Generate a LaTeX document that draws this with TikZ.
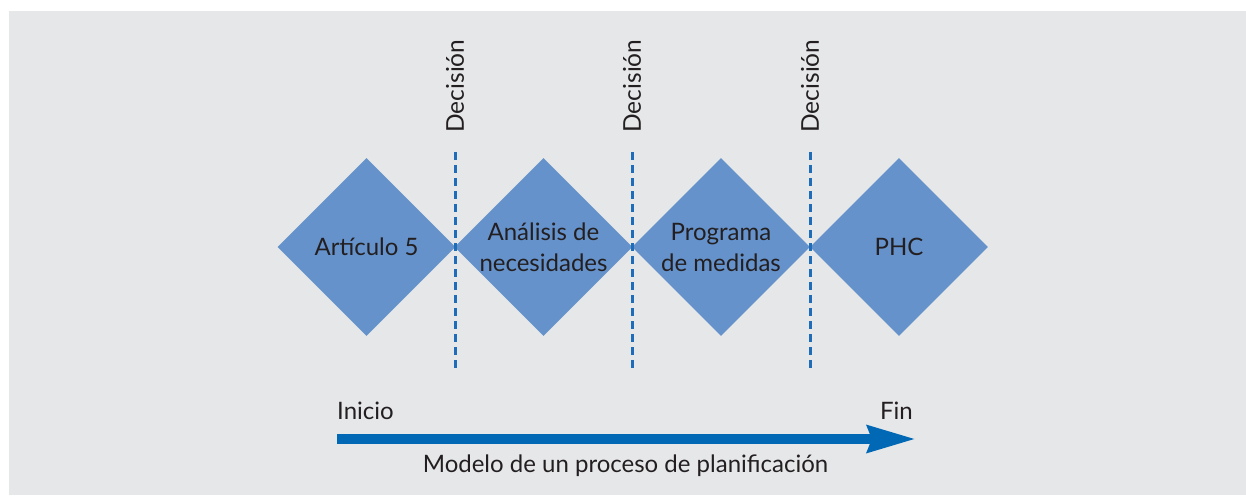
\documentclass[tikz,border=0pt]{standalone}
\usepackage{fontspec}
\setmainfont{Lato}
\usetikzlibrary{shapes.geometric,arrows.meta}
\definecolor{bgc}{HTML}{E6E7E9}
\definecolor{diac}{HTML}{6592CB}
\definecolor{linec}{HTML}{1F6DB8}
\definecolor{arrc}{HTML}{0068B4}
\definecolor{txtc}{HTML}{231F20}
\tikzset{
  dia/.style={diamond, aspect=1, fill=diac, draw=none, minimum width=178pt, minimum height=178pt, inner sep=0pt},
  lab/.style={text=txtc, font=\fontsize{24}{31}\selectfont, align=center, inner sep=0pt},
  decline/.style={draw=linec, line width=3pt, dash pattern=on 8pt off 5pt},
  declab/.style={text=txtc, font=\fontsize{24.5}{28}\selectfont, rotate=90, inner sep=0pt},
  plain/.style={text=txtc, font=\fontsize{24}{28}\selectfont, inner sep=0pt},
  flow/.style={draw=arrc, line width=10pt, -{Stealth[length=48pt, width=26pt, inset=4pt]}},
}
\begin{document}
\begin{tikzpicture}[x=1pt,y=-1pt]
\useasboundingbox (0,0) rectangle (1246,495);
\fill[bgc] (9,11) rectangle (1246,495);
% diamonds
\node[dia] (d1) at (366.5,247) {};
\node[dia] (d2) at (543.5,247) {};
\node[dia] (d3) at (721,247) {};
\node[dia] (d4) at (899,247) {};
\node[lab] (t1) at (d1) {Artículo 5};
\node[lab] (t2) at (d2) {Análisis de\\necesidades};
\node[lab] (t3) at (d3) {Programa\\de medidas};
\node[lab] (t4) at (d4) {PHC};
% decision lines
\coordinate (l1a) at (455,152); \coordinate (l1b) at (455,368);
\coordinate (l2a) at (632,152); \coordinate (l2b) at (632,368);
\coordinate (l3a) at (810,152); \coordinate (l3b) at (810,368);
\draw[decline] (l1a) -- (l1b);
\draw[decline] (l2a) -- (l2b);
\draw[decline] (l3a) -- (l3b);
\node[declab] (k1) at (455,86) {Decisión};
\node[declab] (k2) at (632,86) {Decisión};
\node[declab] (k3) at (810,86) {Decisión};
% flow arrow
\coordinate (a0) at (337,439);
\coordinate (a1) at (916,439);
\draw[flow] (a0) -- (a1);
\node[plain, anchor=base west] (ini) at (337,419) {Inicio};
\node[plain, anchor=base east] (fin) at (913,419) {Fin};
\node[plain, anchor=base] (cap) at (625.5,472) {Modelo de un proceso de planificación};
\end{tikzpicture}
\end{document}
